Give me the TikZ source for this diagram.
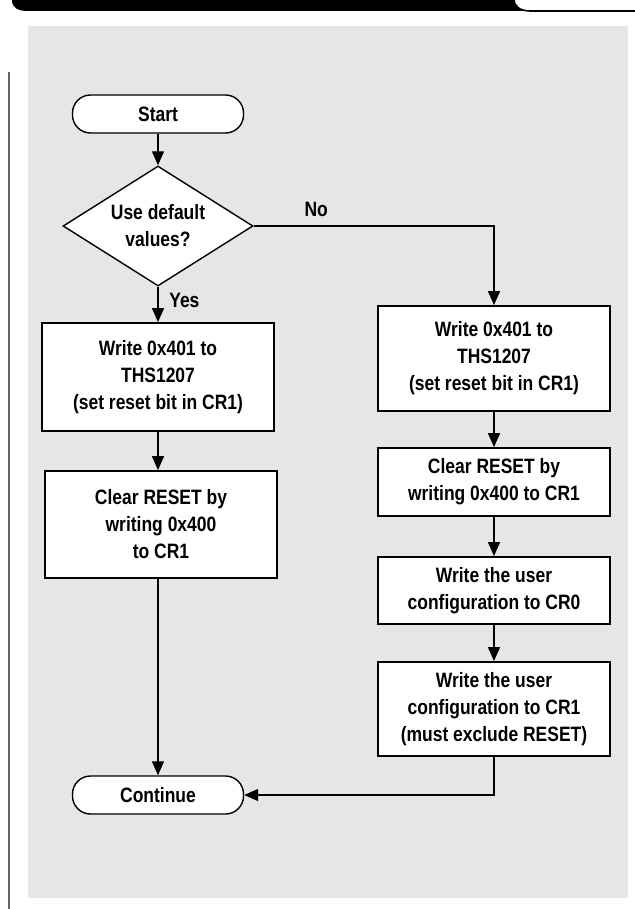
\documentclass[tikz,border=0pt]{standalone}
\usepackage{fontspec}
\setmainfont{Liberation Sans}[FakeStretch=0.84]
\usetikzlibrary{arrows.meta,shapes.geometric}
\definecolor{panel}{RGB}{229,230,232}
\definecolor{rule}{RGB}{100,100,100}
\begin{document}
\begin{tikzpicture}[x=0.5pt,y=-0.5pt,
    font=\bfseries\fontsize{10.4}{13.5}\selectfont,
    proc/.style={draw=black,fill=white,line width=.9pt,minimum width=116pt,align=center,inner sep=0pt},
    term/.style={draw=black,fill=white,line width=.7pt,rounded corners=9pt,minimum width=85.5pt,minimum height=19pt,inner sep=0pt},
    decide/.style={draw=black,fill=white,line width=.7pt,shape=diamond,aspect=1.6,minimum width=95pt,minimum height=60pt,inner sep=0pt,align=center},
    flow/.style={line width=.65pt,-{Triangle[length=7pt,width=6pt]}}]
        \useasboundingbox (0,0) rectangle (635,909);
        % page furniture
        \fill[black] (12,0) .. controls (12,8) and (18,11) .. (28,11) -- (530,11) .. controls (520,11) and (514,6) .. (514,0) -- cycle;
        \draw[line width=.8pt] (514,0) .. controls (514,6) and (520,11) .. (530,11) -- (635,11);
        \draw[rule,line width=1pt] (9,72) -- (9,909);
        \fill[panel] (28,26) rectangle (628,898);

        \node[term] at (158, 114) (start) {Start};
        \node[decide] at (158, 226) (dec) {Use default\\values?};

        \node[proc,minimum height=54pt] at (158, 377) (l1) {Write 0x401 to\\THS1207\\(set reset bit in CR1)};
        \node[proc,minimum height=53.5pt] at (161, 524.5) (l2) {Clear RESET by\\writing 0x400\\to CR1};

        \node[proc,minimum height=52.5pt] at (494, 358.5) (r1) {Write 0x401 to\\THS1207\\(set reset bit in CR1)};
        \node[proc,minimum height=34pt] at (494, 482) (r2) {Clear RESET by\\writing 0x400 to CR1};
        \node[proc,minimum height=33.5pt] at (494, 590.5) (r3) {Write the user\\configuration to CR0};
        \node[proc,minimum height=47pt] at (494, 709) (r4) {Write the user\\configuration to CR1\\(must exclude RESET)};

        \node[term] at (158, 795) (cont) {Continue};

        \draw[flow] (start) -- (dec);
        \draw[flow] (dec) -- node[pos=.38,right=2pt] {Yes} (l1);
        \draw[flow] (dec.east) -| node[pos=.13,above=1pt] {No} (r1.north);
        \draw[flow] (l1.south) -- (l1.south |- l2.north);
        \draw[flow] (l2.south -| cont) -- (cont);
        \draw[flow] (r1) -- (r2);
        \draw[flow] (r2) -- (r3);
        \draw[flow] (r3) -- (r4);
        \draw[flow] (r4.south) |- (cont.east);
    \end{tikzpicture}
\end{document}
